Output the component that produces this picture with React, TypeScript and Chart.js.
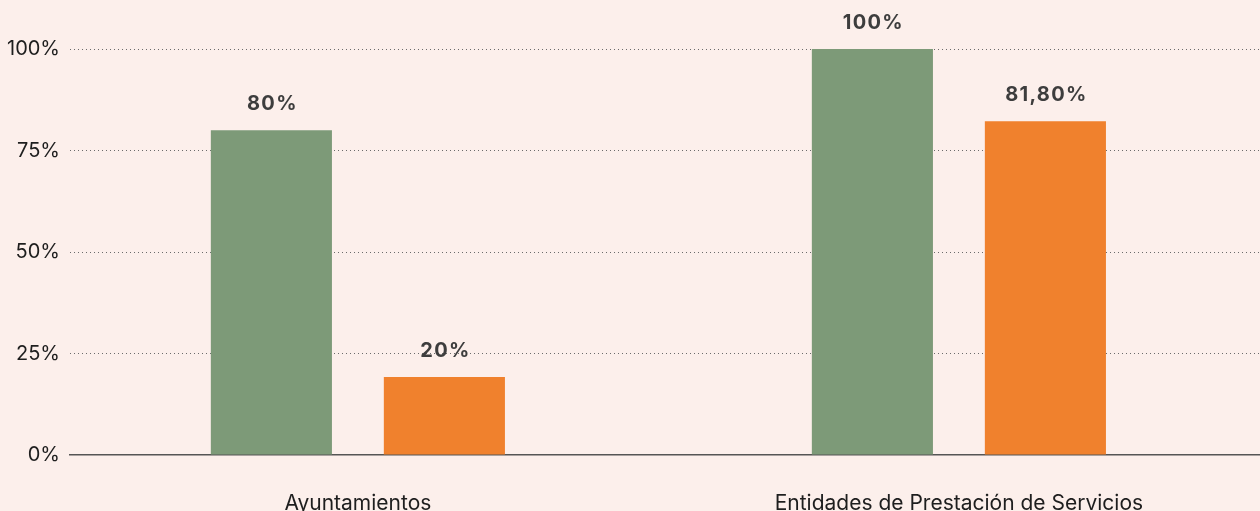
import React, { useEffect, useRef } from "react";
import { Chart, registerables } from "chart.js";

Chart.register(...registerables);

const categories = ["Ayuntamientos", "Entidades de Prestación de Servicios"];
const greenValues = [80, 100];
const orangeValues = [19.2, 82.2];
const greenLabels = ["80%", "100%"];
const orangeLabels = ["20%", "81,80%"];
const yTicks = [0, 25, 50, 75, 100];

const BG = "#fcefeb";
const FONT = "Inter, 'Noto Sans', sans-serif";

export default function App() {
  const ref = useRef<HTMLCanvasElement | null>(null);

  useEffect(() => {
    document.body.style.margin = "0";
    document.body.style.background = BG;
    const canvas = ref.current;
    if (!canvas) return;

    const bgPlugin = {
      id: "bg",
      beforeDraw(chart: any) {
        const { ctx, width, height } = chart;
        ctx.save();
        ctx.fillStyle = BG;
        ctx.fillRect(0, 0, width, height);
        ctx.restore();
      },
    };

    const labelPlugin = {
      id: "valueLabels",
      afterDatasetsDraw(chart: any) {
        const { ctx } = chart;
        const texts = [greenLabels, orangeLabels];
        ctx.save();
        ctx.font = `bold 20px ${FONT}`;
        (ctx as any).letterSpacing = "1.3px";
        ctx.fillStyle = "#3d3d3d";
        ctx.textAlign = "center";
        ctx.textBaseline = "middle";
        chart.data.datasets.forEach((_: any, di: number) => {
          const meta = chart.getDatasetMeta(di);
          meta.data.forEach((el: any, i: number) => {
            ctx.fillText(texts[di][i], el.x + 1, el.y - 26);
          });
        });
        ctx.restore();
      },
    };

    const chart = new Chart(canvas, {
      type: "bar",
      data: {
        datasets: [
          {
            label: "A",
            data: greenValues.map((v, i) => ({ x: i, y: v })),
            backgroundColor: "#7d9a78",
            categoryPercentage: 0.5757,
            barPercentage: 0.7,
          },
          {
            label: "B",
            data: orangeValues.map((v, i) => ({ x: i, y: v })),
            backgroundColor: "#f0812d",
            categoryPercentage: 0.5757,
            barPercentage: 0.7,
          },
        ],
      },
      options: {
        responsive: false,
        animation: false,
        maintainAspectRatio: false,
        layout: { padding: { top: 49, left: 0, right: 0, bottom: 0 } },
        plugins: {
          legend: { display: false },
          tooltip: { enabled: false },
        },
        scales: {
          x: {
            type: "linear",
            offset: false,
            min: -0.479,
            max: 1.501,
            grid: { display: false, offset: false },
            border: { display: true, color: "#555555", width: 1.5 },
            afterFit(scale: any) {
              scale.height = 56;
            },
            afterBuildTicks(scale: any) {
              scale.ticks = categories.map((_, i) => ({ value: i }));
            },
            ticks: {
              autoSkip: false,
              maxRotation: 0,
              padding: 28,
              color: "#1e1e1e",
              font: { family: FONT, size: 21 },
              callback: (v: any) => categories[v] ?? "",
            },
          },
          y: {
            min: 0,
            max: 100,
            afterFit(scale: any) {
              scale.width = 70;
            },
            afterBuildTicks(scale: any) {
              scale.ticks = yTicks.map((v) => ({ value: v }));
            },
            grid: {
              drawTicks: false,
              color: (c: any) => (c.tick && c.tick.value === 0 ? "rgba(0,0,0,0)" : "#6b6b6b"),
              lineWidth: 1,
            },
            border: { display: false, dash: [1, 3] },
            ticks: {
              padding: 10,
              color: "#1e1e1e",
              font: { family: FONT, size: 20 },
              callback: (v: any) => `${v}%`,
            },
          },
        },
      },
      plugins: [bgPlugin, labelPlugin],
    });

    return () => chart.destroy();
  }, []);

  return (
    <div style={{ width: 1260, height: 511, background: BG }}>
      <canvas ref={ref} width={1260} height={511} style={{ display: "block" }} />
    </div>
  );
}
